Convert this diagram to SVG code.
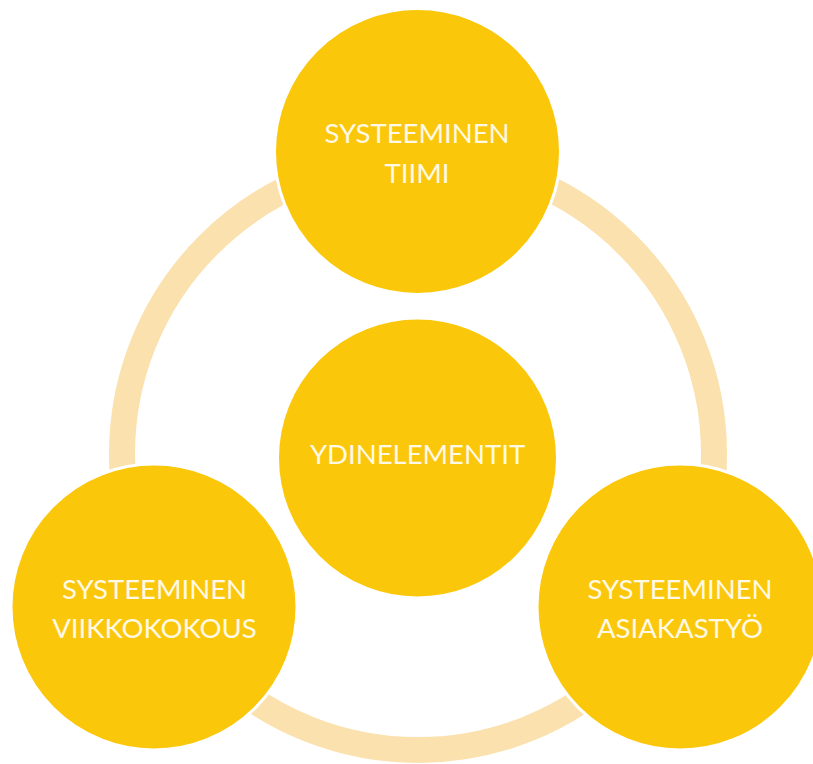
<svg xmlns="http://www.w3.org/2000/svg" width="813" height="764" viewBox="0 0 813 764">
<style>
.node{fill:#FBC70B;stroke:#FFFFFF;stroke-width:3}
.ring{fill:none;stroke:#FBE1AD;stroke-width:26}
.lbl{font-family:Lato,"Liberation Sans",sans-serif;font-size:27.5px;fill:#FFF9E6;text-anchor:middle}
</style>
<rect width="813" height="764" fill="#FFFFFF"/>
<g id="connectors">
<circle class="ring" cx="418" cy="454" r="296"/>
</g>
<g id="node-tiimi">
<circle class="node" cx="417.5" cy="151.5" r="143"/>
<text class="lbl" x="417" y="143">SYSTEEMINEN</text>
<text class="lbl" x="417" y="183">TIIMI</text>
</g>
<g id="node-ydinelementit">
<circle class="node" cx="417.5" cy="458" r="140"/>
<text class="lbl" x="417.5" y="464">YDINELEMENTIT</text>
</g>
<g id="node-viikkokokous">
<circle class="node" cx="154" cy="607" r="143"/>
<text class="lbl" x="154.5" y="599">SYSTEEMINEN</text>
<text class="lbl" x="154.5" y="638">VIIKKOKOKOUS</text>
</g>
<g id="node-asiakastyo">
<circle class="node" cx="680" cy="607" r="143"/>
<text class="lbl" x="680" y="599">SYSTEEMINEN</text>
<text class="lbl" x="680" y="638">ASIAKASTYÖ</text>
</g>
</svg>
